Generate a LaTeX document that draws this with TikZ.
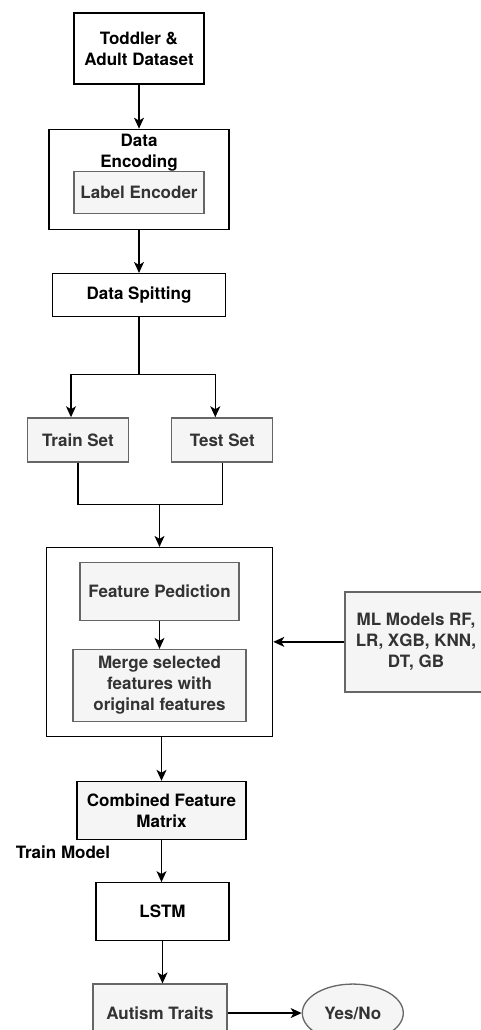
\documentclass[tikz,border=0pt]{standalone}
\usepackage{fontspec}
\setmainfont{TeX Gyre Heros}
\usetikzlibrary{arrows.meta,fit,calc,positioning,shapes.geometric}
\definecolor{stepFill}{RGB}{245,245,245}
\definecolor{stepBorder}{RGB}{102,102,102}
\definecolor{stepText}{RGB}{51,51,51}
\tikzset{block/.style={draw=black, fill=white, align=center, line width=1.3pt, font=\bfseries\fontsize{17}{21}\selectfont, inner sep=3pt}}
\tikzset{subblock/.style={block, fill=stepFill, draw=stepBorder, text=stepText}}
\tikzset{flow/.style={line width=1.3pt, -{Stealth[length=11pt, width=10pt, inset=3pt]}}}

\begin{document}
\begin{tikzpicture}[x=1pt, y=1pt, node distance=44pt]
\pgfdeclarelayer{background}
\pgfsetlayers{background,main}
\useasboundingbox (0,0) rectangle (481,-1030);

% Nodes
    \node (Dataset) [block, minimum width=130pt, minimum height=71pt] at (139,-48.5) {Toddler \&\\ Adult Dataset};

    \node (Encoding) [block, minimum width=180pt, minimum height=100pt, below=44pt of Dataset] {};
    \node (EncodingTitle) [font=\bfseries\fontsize{17}{21}\selectfont, align=center, inner sep=0pt, below=5pt of Encoding.north] {Data\\ Encoding};
    \node (LabelEncoder) [subblock, minimum width=130pt, minimum height=42pt, below=42pt of Encoding.north] {Label Encoder};

    \node (Splitting) [block, minimum width=173pt, minimum height=43pt, below=43pt of Encoding] {Data Spitting};

    \node (TrainSet) [subblock, minimum width=101pt, minimum height=44pt, below=100pt of Splitting, xshift=-61pt] {Train Set};
    \node (TestSet) [subblock, minimum width=101pt, minimum height=44pt, right=42pt of TrainSet] {Test Set};

    \node (FeaturePrediction) [subblock, minimum width=159pt, minimum height=58pt, below=99pt of TrainSet, xshift=81.5pt] {Feature Pediction};
    \node (MergeFeatures) [subblock, minimum width=173pt, minimum height=72pt, below=28pt of FeaturePrediction] {Merge selected\\ features with\\ original features};

\begin{pgfonlayer}{background}
\node (Processing) [block, inner xsep=26pt, inner ysep=14pt, fit=(FeaturePrediction) (MergeFeatures)] {};
\end{pgfonlayer}

    \node (MLModels) [subblock, minimum width=142pt, minimum height=100pt, right=71pt of Processing] {ML Models RF,\\ LR, XGB, KNN,\\ DT, GB};

    \node (Combined) [subblock, draw=black, text=black, minimum width=169pt, minimum height=58pt, below=44pt of Processing, xshift=2pt] {Combined Feature\\ Matrix};
    \node (TrainModel) [font=\bfseries\fontsize{17}{21}\selectfont] at (63,-852) {Train Model};

    \node (LSTM) [block, minimum width=133pt, minimum height=58pt, below=42pt of Combined, xshift=1pt] {LSTM};
    \node (AutismTraits) [subblock, minimum width=134pt, minimum height=58pt, below=42pt of LSTM, xshift=-2.5pt] {Autism Traits};
    \node (Outcome) [subblock, ellipse, minimum width=101pt, minimum height=58pt, right=74pt of AutismTraits] {Yes/No};

% Connectors
    \draw [flow] (Dataset) -- (Encoding);
    \draw [flow] (Encoding) -- (Splitting);

    \draw [line width=1.3pt] (Splitting.south) -- ++(0,-57.5) coordinate (Fork);
    \draw [flow] (Fork) -| ([xshift=-7pt]TrainSet.north);
    \draw [flow] (Fork) -| ([xshift=-7pt]TestSet.north);

    \path (Processing.north) ++(0,42.5) coordinate (Join);
    \draw [line width=1.3pt] (TrainSet.south) |- (Join) -| (TestSet.south);
    \draw [flow] (Join) -- (Processing);

    \draw [flow] (FeaturePrediction) -- (MergeFeatures);
    \draw [flow] (MLModels.west) -- (MLModels.west -| Processing.east);

    \draw [flow] (Processing.south -| Combined.north) -- (Combined.north);
    \draw [flow] (Combined.south) -- (Combined.south |- LSTM.north);
    \draw [flow] (LSTM.south) -- (LSTM.south |- AutismTraits.north);
    \draw [flow] (AutismTraits.east) -- (Outcome.west);

\end{tikzpicture}
\end{document}
